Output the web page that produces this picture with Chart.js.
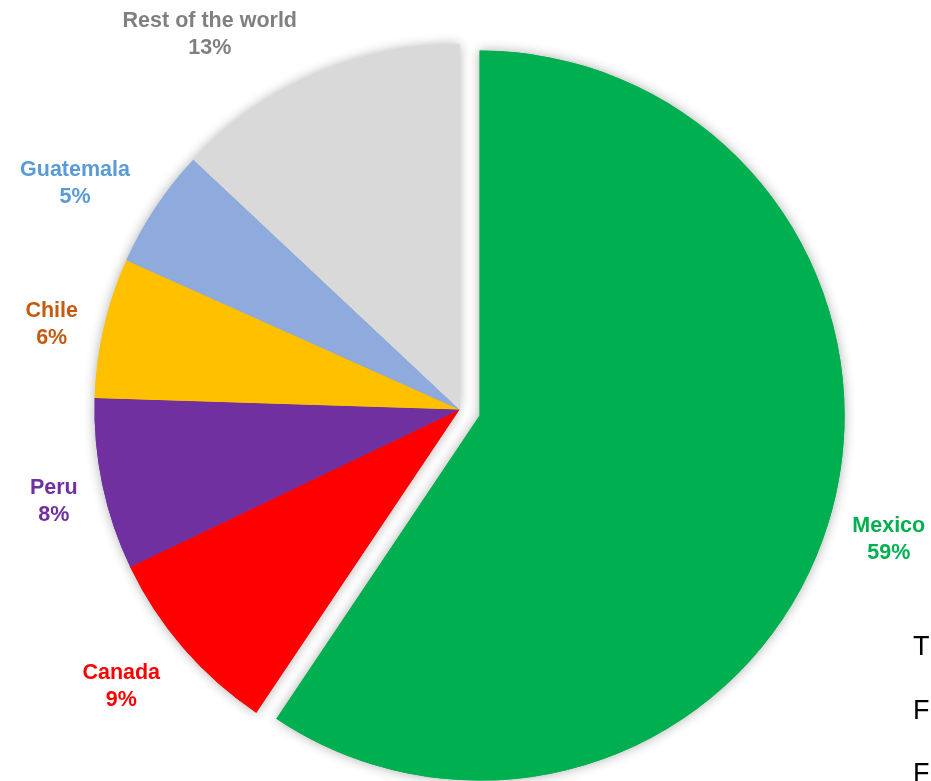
<!DOCTYPE html>
<html>
<head>
<meta charset="utf-8">
<script src="https://cdn.jsdelivr.net/npm/chart.js@4.4.1/dist/chart.umd.min.js"></script>
<style>
html,body{margin:0;padding:0;background:#fff;overflow:hidden;width:931px;height:781px}
#wrap{position:relative;width:931px;height:781px;overflow:hidden}
#c{position:absolute;left:0;top:0}
.frag{position:absolute;left:913px;font:27px/27px 'Liberation Sans',Arial,sans-serif;color:#000;white-space:nowrap}
</style>
</head>
<body>
<div id="wrap">
<canvas id="c" width="931" height="781"></canvas>
<div class="frag" style="top:633px">T</div>
<div class="frag" style="top:697px">F</div>
<div class="frag" style="top:760px">F</div>
</div>
<script>
// ---- data ----
const categories = ['Mexico', 'Canada', 'Peru', 'Chile', 'Guatemala', 'Rest of the world'];
const shares = [59.4, 8.5, 7.6, 6.2, 5.3, 13.0];

// ---- styles ----
const sliceColors = ['#00B050', '#FF0000', '#7030A0', '#FFC000', '#8FAADC', '#D9D9D9'];
const labelColors = ['#00B050', '#FF0000', '#7030A0', '#C55A11', '#5B9BD5', '#808080'];
const explode = [21, 0, 0, 0, 0, 0];
const labelGap = [24.6, 30.9, 25.1, 26.5, 30.9, 44.2];
const labelDy = [3, 10, 4.5, -5, -14, -7];
const LINE_H = 27;

const pieExtras = {
  id: 'pieExtras',
  beforeDatasetsDraw(chart) {
    const meta = chart.getDatasetMeta(0);
    const ca = chart.chartArea;
    const cx = (ca.left + ca.right) / 2, cy = (ca.top + ca.bottom) / 2;
    meta.data.forEach((el, i) => {
      const mid = (el.startAngle + el.endAngle) / 2;
      el.x = cx + Math.cos(mid) * explode[i];
      el.y = cy + Math.sin(mid) * explode[i];
    });
    const ctx = chart.ctx;
    ctx.save();
    ctx.shadowColor = 'rgba(0,0,0,0.32)';
    ctx.shadowBlur = 12;
    meta.data.forEach(el => el.draw(ctx));
    ctx.restore();
  },
  afterDatasetsDraw(chart) {
    const ctx = chart.ctx;
    const meta = chart.getDatasetMeta(0);
    ctx.save();
    ctx.font = 'bold 21.5px "Liberation Sans", Arial, sans-serif';
    ctx.textAlign = 'center';
    ctx.textBaseline = 'alphabetic';
    meta.data.forEach((el, i) => {
      const mid = (el.startAngle + el.endAngle) / 2;
      const L = el.outerRadius + labelGap[i];
      const ax = el.x + Math.cos(mid) * L;
      const ay = el.y + Math.sin(mid) * L;
      const lines = [categories[i], Math.round(shares[i]) + '%'];
      const w = Math.max(...lines.map(t => ctx.measureText(t).width));
      const bx = Math.cos(mid) < 0 ? ax - w / 2 : ax + w / 2;
      const b1 = ay + labelDy[i];
      ctx.fillStyle = labelColors[i];
      lines.forEach((t, k) => ctx.fillText(t, bx, b1 + k * LINE_H));
    });
    ctx.restore();
  }
};

new Chart(document.getElementById('c'), {
  type: 'pie',
  data: {
    labels: categories,
    datasets: [{
      data: shares,
      backgroundColor: sliceColors,
      borderWidth: 0
    }]
  },
  options: {
    responsive: false,
    devicePixelRatio: 1,
    animation: false,
    radius: 365,
    layout: { padding: { left: 0, right: 12, top: 38, bottom: 0 } },
    plugins: { legend: { display: false }, tooltip: { enabled: false } }
  },
  plugins: [pieExtras]
});
</script>
</body>
</html>
